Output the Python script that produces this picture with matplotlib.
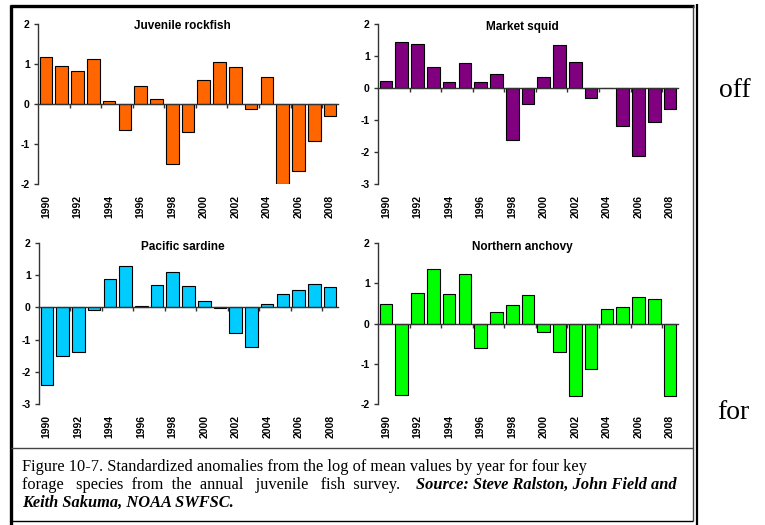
"""Standardized anomalies of four forage species, 1990-2008."""

import numpy as np
import matplotlib
matplotlib.use('Agg')
import matplotlib.pyplot as plt
from matplotlib.lines import Line2D

plt.rcParams['axes.unicode_minus'] = False

# Data
years = list(range(1990, 2009))

rockfish = [1.17, 0.96, 0.82, 1.12, 0.08, -0.64, 0.46, 0.12, -1.51, -0.69,
            0.60, 1.04, 0.92, -0.12, 0.68, -2.00, -1.68, -0.92, -0.30]
squid = [0.21, 1.44, 1.38, 0.65, 0.18, 0.79, 0.18, 0.45, -1.61, -0.51,
         0.34, 1.34, 0.80, -0.30, 0.00, -1.20, -2.12, -1.06, -0.67]
sardine = [-2.41, -1.52, -1.38, -0.08, 0.88, 1.29, 0.04, 0.71, 1.11, 0.68,
           0.20, -0.03, -0.79, -1.22, 0.12, 0.41, 0.53, 0.74, 0.64]
anchovy = [0.48, -1.77, 0.76, 1.36, 0.73, 1.22, -0.62, 0.29, 0.46, 0.70,
           -0.22, -0.70, -1.79, -1.12, 0.35, 0.42, 0.65, 0.62, -1.79]

titles = ['Juvenile rockfish', 'Market squid', 'Pacific sardine', 'Northern anchovy']
series = [rockfish, squid, sardine, anchovy]
colors = ['#FF6600', '#800080', '#00CCFF', '#00FF00']
ylims = [(-2, 2), (-3, 2), (-3, 2), (-2, 2)]

W, H = 765, 525


def px_box(x0, y0, x1, y1):
    """Convert a pixel box (top-left origin) into figure fractions."""
    return [x0 / W, 1 - y1 / H, (x1 - x0) / W, (y1 - y0) / H]


def fx(x):
    return x / W


def fy(y):
    return 1 - y / H


fig = plt.figure(figsize=(W / 100, H / 100), dpi=100)
fig.patch.set_facecolor('white')

boxes = [px_box(38, 24, 338, 184), px_box(378, 24, 678, 184),
         px_box(39, 243, 338, 404), px_box(378, 243, 678, 404)]
title_y = [0.985, 0.98, 0.975, 0.975]

sans = 'Liberation Sans'
serif = 'Liberation Serif'
axis_col = '#333333'

for box, title, vals, col, ylim, ty in zip(boxes, titles, series, colors, ylims, title_y):
    ax = fig.add_axes(box)
    x = np.arange(len(years))
    ax.bar(x, vals, width=0.8, color=col, edgecolor='black', linewidth=0.8, zorder=1)
    ax.set_xlim(-0.5, len(years) - 0.5)
    ax.set_ylim(*ylim)

    # spines: left axis plus zero line
    for s in ['top', 'right']:
        ax.spines[s].set_visible(False)
    ax.spines['left'].set_color(axis_col)
    ax.spines['left'].set_linewidth(1.0)
    ax.spines['bottom'].set_position(('data', 0))
    ax.spines['bottom'].set_color(axis_col)
    ax.spines['bottom'].set_linewidth(1.0)

    ax.set_yticks(np.arange(ylim[0], ylim[1] + 1))
    ax.tick_params(axis='y', direction='out', length=3, width=1, color=axis_col,
                   pad=3, labelsize=7.5)
    for lab in ax.get_yticklabels():
        lab.set_fontfamily(sans)
        lab.set_fontweight('bold')

    # tick marks between every second category, on the zero line
    ax.set_xticks(np.arange(1.5, len(years) - 1, 2))
    ax.tick_params(axis='x', direction='out', length=3, width=1, color=axis_col,
                   labelbottom=False)

    # year labels sit below the plot area
    sec = ax.secondary_xaxis('bottom')
    sec.spines['bottom'].set_visible(False)
    sec.set_xticks(x[::2])
    sec.set_xticklabels([str(y) for y in years[::2]], rotation=90,
                        fontsize=7.5, fontweight='bold', fontfamily=sans)
    sec.tick_params(axis='x', length=0, pad=8)

    ax.text(0.48, ty, title, transform=ax.transAxes, ha='center', va='center',
            fontsize=8.5, fontweight='bold', fontfamily=sans)


# frame around the chart and caption
def line(xs, ys, lw, color='black'):
    fig.add_artist(Line2D([fx(v) for v in xs], [fy(v) for v in ys],
                          transform=fig.transFigure, lw=lw, color=color,
                          solid_capstyle='butt'))


line([9.5, 694], [5.5, 5.5], 2.4)             # top (thick)
line([11, 11], [4.5, 525], 2.4)               # left (thick)
line([693, 693], [5.5, 521], 1.0, '#444444')  # right of chart / caption
line([11, 693], [448, 448], 1.0, '#444444')   # chart bottom
line([11, 693], [521, 521], 1.0)              # caption bottom
line([697, 697], [4, 525], 1.6)               # page column rule

# caption (justified in the original, so line 2 is spread out)
cap_fs = 11.8
fig.text(fx(22), fy(471), 'Figure 10-7. Standardized anomalies from the log of mean '
         'values by year for four key', fontsize=cap_fs, fontfamily=serif, va='baseline')
fig.text(fx(22), fy(489), 'forage   species  from  the  annual   juvenile   fish  survey.',
         fontsize=cap_fs, fontfamily=serif, va='baseline')
fig.text(fx(677), fy(489), 'Source: Steve Ralston, John Field and', ha='right',
         fontsize=cap_fs, fontfamily=serif, fontweight='bold', fontstyle='italic',
         va='baseline')
fig.text(fx(22), fy(507), 'Keith Sakuma, NOAA SWFSC.', fontsize=cap_fs, fontfamily=serif,
         fontweight='bold', fontstyle='italic', va='baseline')

# text flowing in from the next column
fig.text(fx(719), fy(97), 'off', fontsize=20, fontfamily=serif, va='baseline')
fig.text(fx(717), fy(419), 'for', fontsize=20, fontfamily=serif, va='baseline')

fig.savefig('out.png', dpi=100, facecolor='white')
